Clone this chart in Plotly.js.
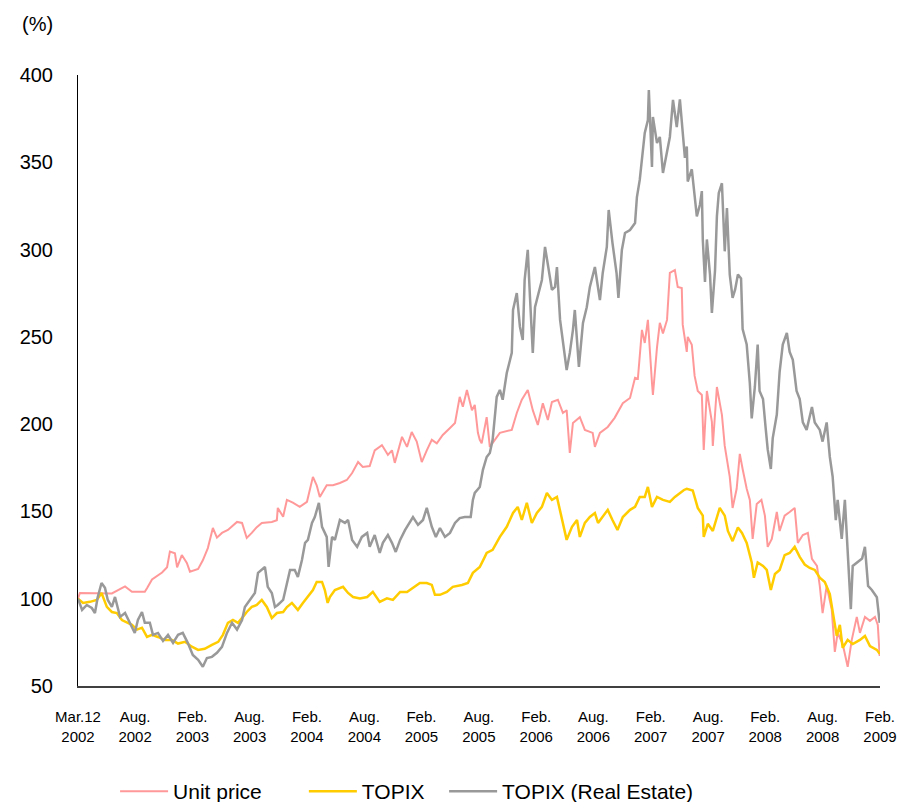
<!DOCTYPE html>
<html>
<head>
<meta charset="utf-8">
<script src="https://cdn.plot.ly/plotly-3.0.1.min.js"></script>
<style>html,body{margin:0;padding:0;background:#fff;}#chart{width:899px;height:802px;}</style>
</head>
<body>
<div id="chart"></div>
<script>
const seriesNames = ["Unit price", "TOPIX", "TOPIX (Real Estate)"];
const tickLabels = ["Mar.12<br>2002","Aug.<br>2002","Feb.<br>2003","Aug.<br>2003","Feb.<br>2004","Aug.<br>2004","Feb.<br>2005","Aug.<br>2005","Feb.<br>2006","Aug.<br>2006","Feb.<br>2007","Aug.<br>2007","Feb.<br>2008","Aug.<br>2008","Feb.<br>2009"];
const axisStart = "2002-03-12";
const axisEnd = "2009-03-12";

const unitPriceDates = ["2002-03-12","2002-03-18","2002-06-28","2002-07-17","2002-08-09","2002-08-31","2002-10-11","2002-10-18","2002-11-03","2002-12-05","2002-12-21","2002-12-30","2003-01-15","2003-01-22","2003-02-06","2003-02-22","2003-03-04","2003-03-30","2003-04-14","2003-04-30","2003-05-16","2003-05-29","2003-06-14","2003-07-03","2003-08-01","2003-08-17","2003-09-01","2003-09-17","2003-10-03","2003-10-19","2003-11-20","2003-12-06","2003-12-09","2003-12-26","2004-01-07","2004-01-26","2004-02-17","2004-03-11","2004-03-30","2004-04-11","2004-04-21","2004-05-13","2004-06-02","2004-06-24","2004-07-16","2004-08-02","2004-08-21","2004-09-05","2004-09-27","2004-10-13","2004-11-05","2004-11-24","2004-12-07","2004-12-16","2005-01-08","2005-01-24","2005-02-08","2005-02-24","2005-03-12","2005-03-28","2005-04-13","2005-04-29","2005-05-18","2005-06-10","2005-06-26","2005-07-11","2005-07-21","2005-08-03","2005-08-19","2005-08-28","2005-09-07","2005-09-13","2005-09-19","2005-10-05","2005-10-15","2005-10-31","2005-11-16","2005-12-24","2006-01-09","2006-01-25","2006-02-13","2006-03-01","2006-03-17","2006-04-02","2006-04-18","2006-05-01","2006-05-20","2006-06-05","2006-06-17","2006-06-27","2006-07-07","2006-07-29","2006-08-14","2006-09-08","2006-09-15","2006-10-01","2006-10-26","2006-11-17","2006-12-13","2007-01-05","2007-01-21","2007-01-30","2007-02-12","2007-02-21","2007-03-03","2007-03-16","2007-03-19","2007-04-01","2007-04-10","2007-04-20","2007-05-03","2007-05-12","2007-05-28","2007-06-06","2007-06-19","2007-06-22","2007-07-05","2007-07-08","2007-07-21","2007-07-30","2007-08-09","2007-08-22","2007-08-28","2007-09-07","2007-09-23","2007-09-26","2007-10-09","2007-10-25","2007-11-03","2007-11-19","2007-11-28","2007-12-11","2007-12-21","2007-12-30","2008-01-12","2008-01-22","2008-01-31","2008-02-13","2008-02-28","2008-03-10","2008-03-19","2008-04-01","2008-04-17","2008-04-26","2008-05-12","2008-05-28","2008-06-13","2008-06-23","2008-07-09","2008-07-25","2008-08-07","2008-08-23","2008-09-01","2008-09-10","2008-09-23","2008-10-09","2008-10-19","2008-10-28","2008-11-13","2008-11-29","2008-12-12","2008-12-28","2009-01-07","2009-01-23","2009-02-08","2009-02-24","2009-03-05","2009-03-11"];
const unitPriceValues = [100,103.3,103,105,107,104,104,106,111,115,118,127,126,118,125,120.5,115.5,117,122,129,140.5,135,137.7,139.4,144,143.4,134.8,137.7,141,143.4,144,145,152,147,156.6,155,152.6,155.5,169.8,165,158.3,165,165,166.3,168,172,178.3,175.5,176,185,188,182.4,185,177.8,192.7,187,195.5,190,178.3,185,191,189,193.8,197.8,200.7,215.6,210,219.6,208,211,195,191,189,204,187,191,195,196.7,206.4,214,219.6,208,199.5,212,202.4,212.7,214,206.4,208,183.5,200.7,204,196.7,195,187,195,198.4,203.6,212,215,226.5,226,254,246.5,259.7,223.6,216.7,244,258,252,259.7,286.6,288.3,278.6,278,257,241.4,250,245.4,227.6,219,216.7,185.2,219,201.3,187.5,221.3,205.3,187.5,169.8,152,163,183,174.3,163,156.6,134.3,154.3,156.6,147.6,129.7,134.3,149.7,138.8,147.6,149.7,152,132,136.5,137.7,122.8,118.8,107.3,91.8,107.3,94,69.5,80.4,74,61,76.4,89.6,80.4,89.6,87.3,89.6,85,67.2];

const topixDates = ["2002-03-12","2002-03-28","2002-04-19","2002-05-11","2002-05-26","2002-06-12","2002-06-28","2002-07-14","2002-07-30","2002-08-15","2002-08-31","2002-09-16","2002-10-02","2002-10-18","2002-11-03","2002-11-22","2002-12-14","2003-01-06","2003-01-25","2003-02-16","2003-03-10","2003-03-30","2003-04-20","2003-05-13","2003-06-02","2003-06-17","2003-07-03","2003-07-19","2003-08-04","2003-08-20","2003-09-01","2003-09-17","2003-10-03","2003-10-19","2003-11-04","2003-11-20","2003-12-06","2003-12-26","2004-01-07","2004-01-23","2004-02-11","2004-02-27","2004-03-14","2004-03-30","2004-04-11","2004-04-28","2004-05-07","2004-05-16","2004-05-23","2004-06-08","2004-07-04","2004-07-20","2004-08-05","2004-08-27","2004-09-19","2004-10-07","2004-10-29","2004-11-21","2004-12-10","2005-01-02","2005-01-24","2005-02-12","2005-03-06","2005-03-28","2005-04-13","2005-04-23","2005-05-09","2005-05-31","2005-06-19","2005-07-18","2005-08-06","2005-08-22","2005-09-13","2005-09-29","2005-10-05","2005-10-24","2005-11-16","2005-12-08","2005-12-28","2006-01-12","2006-01-25","2006-02-10","2006-02-26","2006-03-14","2006-03-30","2006-04-15","2006-05-01","2006-05-17","2006-06-02","2006-06-17","2006-07-04","2006-07-20","2006-07-29","2006-08-14","2006-08-30","2006-09-15","2006-09-25","2006-10-10","2006-10-26","2006-11-10","2006-11-26","2006-12-13","2007-01-05","2007-01-21","2007-02-05","2007-02-21","2007-03-03","2007-03-16","2007-04-01","2007-04-20","2007-05-12","2007-05-28","2007-06-13","2007-06-26","2007-07-05","2007-07-24","2007-08-09","2007-08-25","2007-08-28","2007-09-10","2007-09-26","2007-10-18","2007-11-03","2007-11-13","2007-11-28","2007-12-15","2007-12-28","2008-01-12","2008-01-28","2008-02-04","2008-02-16","2008-03-04","2008-03-16","2008-03-29","2008-04-11","2008-04-26","2008-05-12","2008-05-28","2008-06-13","2008-06-29","2008-07-15","2008-07-31","2008-08-16","2008-09-01","2008-09-17","2008-10-03","2008-10-15","2008-10-25","2008-11-04","2008-11-13","2008-11-29","2008-12-15","2009-01-07","2009-01-23","2009-02-08","2009-03-02","2009-03-11"];
const topixValues = [100,97.6,98.2,99.3,103.3,95.3,92.4,91.8,87.8,86.2,85,82.3,83.4,78.1,79.3,78.1,76.3,76.3,74.3,75.3,72.5,70.7,71.3,73.6,75.3,79.3,86.2,87.8,86.2,89.6,92.4,95.3,96.4,99.3,95.3,88.9,91.8,92.4,95.2,97.6,93.6,97.6,101,105,109.6,109.6,105,97.6,101,105,106.8,103.3,101,100.2,101,103.9,98.2,100.2,99.3,103.9,103.9,106.2,109,109,107.9,102.2,102.2,103.9,106.8,107.9,109,114.8,118.2,124,126.2,128,135.4,141.2,149.1,152.6,145.1,154.9,143.4,149.1,152.6,160.6,156.6,158.3,145.1,133.7,141.2,145.1,135.4,143.4,146.8,149.1,143.4,146.8,150.9,145.1,139.4,146.8,150.9,152.6,158.3,158.3,164,152.6,158.3,156.6,155.5,158.3,160.6,162.3,163,162,152,147.6,135.4,142.9,138.8,152,147.6,138.8,133,140.8,137.7,132,120.8,112,120.8,118.8,116.5,105,114.2,116.5,125,126.2,129.7,124,119.6,117.6,116.5,112,109.6,102.7,89.6,78.7,85,71.8,76.4,74,76.4,78.7,72.9,70.7,68.4];

const realEstateDates = ["2002-03-12","2002-03-25","2002-04-09","2002-04-25","2002-05-05","2002-05-14","2002-05-26","2002-06-06","2002-06-15","2002-06-28","2002-07-08","2002-07-24","2002-08-09","2002-08-25","2002-09-09","2002-09-19","2002-10-02","2002-10-11","2002-10-27","2002-11-06","2002-11-22","2002-12-08","2002-12-24","2003-01-09","2003-01-25","2003-02-09","2003-02-25","2003-03-13","2003-03-30","2003-04-14","2003-04-27","2003-05-13","2003-05-29","2003-06-14","2003-06-30","2003-07-16","2003-08-01","2003-08-17","2003-08-26","2003-09-11","2003-09-27","2003-10-07","2003-10-19","2003-10-29","2003-11-07","2003-11-20","2003-11-30","2003-12-09","2003-12-26","2004-01-02","2004-01-17","2004-02-01","2004-02-11","2004-02-24","2004-03-05","2004-03-14","2004-03-27","2004-04-05","2004-04-18","2004-04-28","2004-05-13","2004-05-19","2004-05-30","2004-06-08","2004-06-24","2004-07-10","2004-07-20","2004-08-02","2004-08-18","2004-09-02","2004-09-19","2004-09-27","2004-10-13","2004-10-29","2004-11-08","2004-11-24","2004-12-07","2004-12-19","2005-01-02","2005-01-18","2005-02-02","2005-02-12","2005-02-28","2005-03-16","2005-03-28","2005-04-13","2005-04-26","2005-05-09","2005-05-25","2005-06-10","2005-06-26","2005-07-11","2005-07-27","2005-08-15","2005-08-22","2005-08-28","2005-09-13","2005-09-23","2005-10-05","2005-10-15","2005-10-24","2005-11-06","2005-11-16","2005-11-25","2005-12-08","2005-12-24","2005-12-28","2006-01-09","2006-01-19","2006-01-28","2006-02-03","2006-02-13","2006-02-20","2006-03-01","2006-03-08","2006-03-17","2006-03-30","2006-04-09","2006-04-18","2006-05-01","2006-05-11","2006-05-17","2006-05-27","2006-06-05","2006-06-17","2006-06-27","2006-07-07","2006-07-13","2006-07-26","2006-08-08","2006-08-20","2006-08-30","2006-09-15","2006-10-01","2006-10-10","2006-10-23","2006-10-29","2006-11-10","2006-11-23","2006-11-29","2006-12-10","2006-12-20","2007-01-05","2007-01-21","2007-01-27","2007-02-05","2007-02-15","2007-02-21","2007-03-03","2007-03-06","2007-03-16","2007-03-19","2007-04-01","2007-04-10","2007-04-20","2007-05-03","2007-05-12","2007-05-22","2007-06-03","2007-06-13","2007-06-22","2007-06-29","2007-07-05","2007-07-08","2007-07-21","2007-07-30","2007-08-06","2007-08-16","2007-08-22","2007-08-25","2007-09-01","2007-09-07","2007-09-17","2007-09-23","2007-10-03","2007-10-09","2007-10-15","2007-10-25","2007-11-03","2007-11-10","2007-11-19","2007-11-28","2007-12-06","2007-12-15","2007-12-25","2007-12-30","2008-01-12","2008-01-22","2008-01-28","2008-02-07","2008-02-16","2008-02-22","2008-03-04","2008-03-13","2008-03-19","2008-03-29","2008-04-04","2008-04-17","2008-04-26","2008-05-06","2008-05-19","2008-05-28","2008-06-07","2008-06-19","2008-06-29","2008-07-09","2008-07-21","2008-08-07","2008-08-16","2008-09-01","2008-09-10","2008-09-23","2008-10-03","2008-10-12","2008-10-22","2008-10-28","2008-11-10","2008-11-20","2008-11-29","2008-12-09","2008-12-15","2008-12-28","2009-01-14","2009-01-23","2009-02-02","2009-02-14","2009-03-02","2009-03-11"];
const realEstateValues = [100,93.6,96.4,94.7,91.8,101,109,106.2,99.3,95.3,101,89.6,91.8,86.2,80.4,87.8,92.4,86.2,86.2,79.3,80.4,75.8,79.3,74.7,79.3,80.4,74.7,67.8,65,61,66,66.7,69,72.4,80.4,86.2,82.3,87.8,95.3,99.3,103.3,114.8,116.5,118.2,106.8,103.3,95.3,96.4,99.3,105,116.5,116.5,112.5,122.2,132,133.7,143.4,146.8,154.9,141.2,135.4,118.2,135.4,133.7,145.1,143.4,145.1,133.7,129.7,135.4,137.7,129.7,136.5,126.2,132,136.5,132,126.8,133.7,139.4,143.4,146.8,142.3,145.1,152,141.2,135.4,140.5,135.4,137.7,143.4,146.2,146.8,146.8,156.6,160.6,164,173.8,181.2,183.5,191,215.6,219.6,214,229.3,240.8,265.4,275.1,255.7,248.2,282.6,299.8,272.8,240.8,267,272.8,282.6,301.5,292.3,277,278.6,290,259.7,248.2,231,240.8,254,265.4,232.8,258,267,278.6,290,271.1,286.6,301.5,322.7,303.8,286.6,272.3,299.8,309.5,311.2,315.2,330.1,339.9,355.3,366.8,374.2,391.4,347.3,376,361,364.5,343.9,357,364.5,385.7,370.2,386,364,352.5,359,339,346,332.4,319,325.8,333.5,305.8,281.4,305.8,285.7,263.7,288,319,332.4,338,299,323.8,285.7,272.3,277,285.7,283.5,254.5,245.6,223.3,203.3,221.3,245.6,219,214.4,196.7,185.5,174.3,192,205.5,230,245.6,252.2,241.4,236.8,219,214.4,201,196.7,209.8,201,196.7,190,201,181.2,170,145,156.6,134.3,156.6,123,94,118.8,120.8,123,129.7,107.3,105,100.8,86.2];

const colors = ["#FF9999", "#FFCC00", "#999999"];
const widths = [2, 2.5, 2.5];
const xs = [unitPriceDates, topixDates, realEstateDates];
const ys = [unitPriceValues, topixValues, realEstateValues];
const legendIds = ["legend", "legend2", "legend3"];
const legendLeft = [0.128, 0.338, 0.494];

const traces = seriesNames.map((n, i) => ({
  type: "scatter", mode: "lines", name: n,
  x: xs[i], y: ys[i], legend: legendIds[i],
  line: {color: colors[i], width: widths[i]}
}));

// evenly spaced ticks across the axis range
const t0 = new Date(axisStart + "T00:00:00Z").getTime();
const t1 = new Date(axisEnd + "T00:00:00Z").getTime();
const tickVals = tickLabels.map((_, i) => new Date(t0 + (t1 - t0) * i / (tickLabels.length - 1)).toISOString().slice(0, 10));

const font = 'Arial, "Liberation Sans", sans-serif';
const layout = {
  width: 899, height: 802,
  margin: {l: 78, r: 19, t: 75, b: 116},
  paper_bgcolor: "#fff", plot_bgcolor: "#fff",
  font: {family: font, color: "#000"},
  showlegend: true,
  xaxis: {type: "date", range: [axisStart, axisEnd], tickvals: tickVals, ticktext: tickLabels, automargin: false,
          tickmode: "array", showgrid: false, zeroline: false, showline: true, linecolor: "#404040", linewidth: 2,
          ticks: "", tickfont: {size: 15, family: font}, ticklabelstandoff: 16},
  yaxis: {range: [50, 400], dtick: 50, tick0: 50, showgrid: false, zeroline: false, showline: true, automargin: false,
          linecolor: "#000", linewidth: 1, ticks: "", tickfont: {size: 20, family: font}, ticklabelstandoff: 20},
  annotations: [{text: "(%)", xref: "paper", yref: "paper", x: -0.05, y: 1.083, xanchor: "center", yanchor: "middle",
                 showarrow: false, font: {size: 20, family: font}}]
};
legendIds.forEach((id, i) => {
  layout[id] = {orientation: "h", xref: "container", yref: "container", x: legendLeft[i], xanchor: "left",
                y: 0.013, yanchor: "middle", bgcolor: "rgba(0,0,0,0)",
                font: {size: 21, family: font, color: "#000"}, itemwidth: 48};
});
Plotly.newPlot("chart", traces, layout, {displayModeBar: false, staticPlot: true});
</script>
</body>
</html>
